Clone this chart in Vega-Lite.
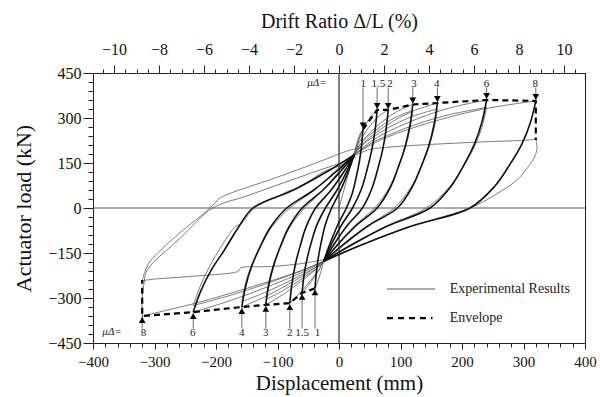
{
"$schema": "https://vega.github.io/schema/vega-lite/v6.json",
"width": 492, "height": 270,
"autosize": {"type": "none"},
"padding": {"left": 93, "top": 73, "right": 15, "bottom": 54},
"background": "white",
"config": {
  "view": {"stroke": "#222", "strokeWidth": 1},
  "font": "Liberation Serif",
  "axis": {"labelFont": "Liberation Serif", "titleFont": "Liberation Serif", "labelColor": "#111", "titleColor": "#111", "domainColor": "#222", "tickColor": "#222", "grid": false, "titleFontWeight": "normal", "labelFontSize": 16, "labelFlush": false, "labelOverlap": false}
},
"datasets": {
  "curves": [
    {"s":"v0","k":"thin","i":0,"x":0,"y":0},{"s":"v0","k":"thin","i":1,"x":8,"y":60},{"s":"v0","k":"thin","i":2,"x":16,"y":120},{"s":"v0","k":"thin","i":3,"x":25,"y":180},{"s":"v0","k":"thin","i":4,"x":32,"y":225},{"s":"v0","k":"thin","i":5,"x":39,"y":262},

    {"s":"u1","k":"thick","i":0,"x":39,"y":262},{"s":"u1","k":"thick","i":1,"x":36.8,"y":210},{"s":"u1","k":"thick","i":2,"x":33.3,"y":157},{"s":"u1","k":"thick","i":3,"x":28.2,"y":105},{"s":"u1","k":"thick","i":4,"x":22,"y":52},{"s":"u1","k":"thick","i":5,"x":12,"y":0},{"s":"u1","k":"thick","i":6,"x":-2.8,"y":-60},{"s":"u1","k":"thick","i":7,"x":-15.8,"y":-125},{"s":"u1","k":"thick","i":8,"x":-25,"y":-178},
    {"s":"u15","k":"thick","i":0,"x":62,"y":327},{"s":"u15","k":"thick","i":1,"x":58.8,"y":262},{"s":"u15","k":"thick","i":2,"x":53.6,"y":196},{"s":"u15","k":"thick","i":3,"x":46,"y":131},{"s":"u15","k":"thick","i":4,"x":36.8,"y":65},{"s":"u15","k":"thick","i":5,"x":22,"y":0},{"s":"u15","k":"thick","i":6,"x":3.2,"y":-60},{"s":"u15","k":"thick","i":7,"x":-13.3,"y":-125},{"s":"u15","k":"thick","i":8,"x":-25,"y":-178},
    {"s":"u2","k":"thick","i":0,"x":80,"y":327},{"s":"u2","k":"thick","i":1,"x":76.6,"y":262},{"s":"u2","k":"thick","i":2,"x":71.2,"y":196},{"s":"u2","k":"thick","i":3,"x":63.2,"y":131},{"s":"u2","k":"thick","i":4,"x":53.5,"y":65},{"s":"u2","k":"thick","i":5,"x":38,"y":0},{"s":"u2","k":"thick","i":6,"x":12.8,"y":-60},{"s":"u2","k":"thick","i":7,"x":-9.3,"y":-125},{"s":"u2","k":"thick","i":8,"x":-25,"y":-178},
    {"s":"u3","k":"thick","i":0,"x":120,"y":345},{"s":"u3","k":"thick","i":1,"x":115.4,"y":276},{"s":"u3","k":"thick","i":2,"x":107.8,"y":207},{"s":"u3","k":"thick","i":3,"x":96.8,"y":138},{"s":"u3","k":"thick","i":4,"x":83.5,"y":69},{"s":"u3","k":"thick","i":5,"x":62,"y":0},{"s":"u3","k":"thick","i":6,"x":27.2,"y":-60},{"s":"u3","k":"thick","i":7,"x":-3.3,"y":-125},{"s":"u3","k":"thick","i":8,"x":-25,"y":-178},
    {"s":"u4","k":"thick","i":0,"x":160,"y":350},{"s":"u4","k":"thick","i":1,"x":154.8,"y":280},{"s":"u4","k":"thick","i":2,"x":146.4,"y":210},{"s":"u4","k":"thick","i":3,"x":134,"y":140},{"s":"u4","k":"thick","i":4,"x":119,"y":70},{"s":"u4","k":"thick","i":5,"x":95,"y":0},{"s":"u4","k":"thick","i":6,"x":47,"y":-60},{"s":"u4","k":"thick","i":7,"x":5,"y":-125},{"s":"u4","k":"thick","i":8,"x":-25,"y":-178},
    {"s":"u6","k":"thick","i":0,"x":240,"y":360},{"s":"u6","k":"thick","i":1,"x":232.6,"y":288},{"s":"u6","k":"thick","i":2,"x":220.7,"y":216},{"s":"u6","k":"thick","i":3,"x":203.2,"y":144},{"s":"u6","k":"thick","i":4,"x":182,"y":72},{"s":"u6","k":"thick","i":5,"x":148,"y":0},{"s":"u6","k":"thick","i":6,"x":78.8,"y":-60},{"s":"u6","k":"thick","i":7,"x":18.3,"y":-125},{"s":"u6","k":"thick","i":8,"x":-25,"y":-178},
    {"s":"u8","k":"thick","i":0,"x":320,"y":357},{"s":"u8","k":"thick","i":1,"x":311.4,"y":286},{"s":"u8","k":"thick","i":2,"x":297.5,"y":214},{"s":"u8","k":"thick","i":3,"x":277.2,"y":143},{"s":"u8","k":"thick","i":4,"x":252.6,"y":71},{"s":"u8","k":"thick","i":5,"x":213,"y":0},{"s":"u8","k":"thick","i":6,"x":117.8,"y":-60},{"s":"u8","k":"thick","i":7,"x":34.5,"y":-125},{"s":"u8","k":"thick","i":8,"x":-25,"y":-178},

    {"s":"n1","k":"thick","i":0,"x":-39,"y":-268},{"s":"n1","k":"thick","i":1,"x":-36.8,"y":-214},{"s":"n1","k":"thick","i":2,"x":-33.3,"y":-161},{"s":"n1","k":"thick","i":3,"x":-28.2,"y":-107},{"s":"n1","k":"thick","i":4,"x":-22,"y":-54},{"s":"n1","k":"thick","i":5,"x":-12,"y":0},{"s":"n1","k":"thick","i":6,"x":2.8,"y":60},{"s":"n1","k":"thick","i":7,"x":15.8,"y":125},{"s":"n1","k":"thick","i":8,"x":25,"y":178},
    {"s":"n15","k":"thick","i":0,"x":-60,"y":-283},{"s":"n15","k":"thick","i":1,"x":-57,"y":-226},{"s":"n15","k":"thick","i":2,"x":-52,"y":-170},{"s":"n15","k":"thick","i":3,"x":-44.8,"y":-113},{"s":"n15","k":"thick","i":4,"x":-36.1,"y":-57},{"s":"n15","k":"thick","i":5,"x":-22,"y":0},{"s":"n15","k":"thick","i":6,"x":-3.2,"y":60},{"s":"n15","k":"thick","i":7,"x":13.3,"y":125},{"s":"n15","k":"thick","i":8,"x":25,"y":178},
    {"s":"n2","k":"thick","i":0,"x":-80,"y":-317},{"s":"n2","k":"thick","i":1,"x":-76.6,"y":-254},{"s":"n2","k":"thick","i":2,"x":-71.2,"y":-190},{"s":"n2","k":"thick","i":3,"x":-63.2,"y":-127},{"s":"n2","k":"thick","i":4,"x":-53.5,"y":-63},{"s":"n2","k":"thick","i":5,"x":-38,"y":0},{"s":"n2","k":"thick","i":6,"x":-12.8,"y":60},{"s":"n2","k":"thick","i":7,"x":9.3,"y":125},{"s":"n2","k":"thick","i":8,"x":25,"y":178},
    {"s":"n3","k":"thick","i":0,"x":-119,"y":-323},{"s":"n3","k":"thick","i":1,"x":-114.3,"y":-258},{"s":"n3","k":"thick","i":2,"x":-106.6,"y":-194},{"s":"n3","k":"thick","i":3,"x":-95.4,"y":-129},{"s":"n3","k":"thick","i":4,"x":-81.8,"y":-65},{"s":"n3","k":"thick","i":5,"x":-60,"y":0},{"s":"n3","k":"thick","i":6,"x":-26,"y":60},{"s":"n3","k":"thick","i":7,"x":3.8,"y":125},{"s":"n3","k":"thick","i":8,"x":25,"y":178},
    {"s":"n4","k":"thick","i":0,"x":-158,"y":-330},{"s":"n4","k":"thick","i":1,"x":-152.2,"y":-264},{"s":"n4","k":"thick","i":2,"x":-142.7,"y":-198},{"s":"n4","k":"thick","i":3,"x":-128.8,"y":-132},{"s":"n4","k":"thick","i":4,"x":-112,"y":-66},{"s":"n4","k":"thick","i":5,"x":-85,"y":0},{"s":"n4","k":"thick","i":6,"x":-41,"y":60},{"s":"n4","k":"thick","i":7,"x":-2.5,"y":125},{"s":"n4","k":"thick","i":8,"x":25,"y":178},
    {"s":"n6","k":"thick","i":0,"x":-237,"y":-347},{"s":"n6","k":"thick","i":1,"x":-225,"y":-278},{"s":"n6","k":"thick","i":2,"x":-208,"y":-208},{"s":"n6","k":"thick","i":3,"x":-186,"y":-139},{"s":"n6","k":"thick","i":4,"x":-165,"y":-69},{"s":"n6","k":"thick","i":5,"x":-140,"y":0},{"s":"n6","k":"thick","i":6,"x":-74,"y":60},{"s":"n6","k":"thick","i":7,"x":-16.3,"y":125},{"s":"n6","k":"thick","i":8,"x":25,"y":178},

    {"s":"r1","k":"thin","i":0,"x":25,"y":178},{"s":"r1","k":"thin","i":1,"x":27.1,"y":201.5},{"s":"r1","k":"thin","i":2,"x":30.6,"y":226.7},{"s":"r1","k":"thin","i":3,"x":34.8,"y":248.6},{"s":"r1","k":"thin","i":4,"x":39,"y":262},
    {"s":"r15","k":"thin","i":0,"x":25,"y":178},{"s":"r15","k":"thin","i":1,"x":30.6,"y":219.7},{"s":"r15","k":"thin","i":2,"x":39.8,"y":264.4},{"s":"r15","k":"thin","i":3,"x":50.9,"y":303.2},{"s":"r15","k":"thin","i":4,"x":62,"y":327},
    {"s":"r2","k":"thin","i":0,"x":25,"y":178},{"s":"r2","k":"thin","i":1,"x":33.3,"y":219.7},{"s":"r2","k":"thin","i":2,"x":47,"y":264.4},{"s":"r2","k":"thin","i":3,"x":63.5,"y":303.2},{"s":"r2","k":"thin","i":4,"x":80,"y":327},
    {"s":"r3","k":"thin","i":0,"x":25,"y":178},{"s":"r3","k":"thin","i":1,"x":39.3,"y":224.8},{"s":"r3","k":"thin","i":2,"x":63,"y":274.9},{"s":"r3","k":"thin","i":3,"x":91.5,"y":318.3},{"s":"r3","k":"thin","i":4,"x":120,"y":345},
    {"s":"r4","k":"thin","i":0,"x":25,"y":178},{"s":"r4","k":"thin","i":1,"x":45.3,"y":226.2},{"s":"r4","k":"thin","i":2,"x":79,"y":277.8},{"s":"r4","k":"thin","i":3,"x":119.5,"y":322.5},{"s":"r4","k":"thin","i":4,"x":160,"y":350},
    {"s":"r6","k":"thin","i":0,"x":25,"y":178},{"s":"r6","k":"thin","i":1,"x":57.3,"y":229},{"s":"r6","k":"thin","i":2,"x":111,"y":283.6},{"s":"r6","k":"thin","i":3,"x":175.5,"y":330.9},{"s":"r6","k":"thin","i":4,"x":240,"y":360},
    {"s":"r8","k":"thin","i":0,"x":25,"y":178},{"s":"r8","k":"thin","i":1,"x":69.3,"y":228.1},{"s":"r8","k":"thin","i":2,"x":143,"y":281.8},{"s":"r8","k":"thin","i":3,"x":231.5,"y":328.4},{"s":"r8","k":"thin","i":4,"x":320,"y":357},

    {"s":"q1","k":"thin","i":0,"x":-25,"y":-178},{"s":"q1","k":"thin","i":1,"x":-27.1,"y":-196},{"s":"q1","k":"thin","i":2,"x":-30.6,"y":-220.3},{"s":"q1","k":"thin","i":3,"x":-34.8,"y":-246.4},{"s":"q1","k":"thin","i":4,"x":-39,"y":-268},
    {"s":"q15","k":"thin","i":0,"x":-25,"y":-178},{"s":"q15","k":"thin","i":1,"x":-30.25,"y":-199},{"s":"q15","k":"thin","i":2,"x":-39,"y":-227.4},{"s":"q15","k":"thin","i":3,"x":-49.5,"y":-257.8},{"s":"q15","k":"thin","i":4,"x":-60,"y":-283},
    {"s":"q2","k":"thin","i":0,"x":-25,"y":-178},{"s":"q2","k":"thin","i":1,"x":-33.3,"y":-205.8},{"s":"q2","k":"thin","i":2,"x":-47,"y":-243.3},{"s":"q2","k":"thin","i":3,"x":-63.5,"y":-283.6},{"s":"q2","k":"thin","i":4,"x":-80,"y":-317},
    {"s":"q3","k":"thin","i":0,"x":-25,"y":-178},{"s":"q3","k":"thin","i":1,"x":-39.1,"y":-207},{"s":"q3","k":"thin","i":2,"x":-62.6,"y":-246.2},{"s":"q3","k":"thin","i":3,"x":-90.8,"y":-288.2},{"s":"q3","k":"thin","i":4,"x":-119,"y":-323},
    {"s":"q4","k":"thin","i":0,"x":-25,"y":-178},{"s":"q4","k":"thin","i":1,"x":-45,"y":-208.4},{"s":"q4","k":"thin","i":2,"x":-78.2,"y":-249.4},{"s":"q4","k":"thin","i":3,"x":-118.1,"y":-293.5},{"s":"q4","k":"thin","i":4,"x":-158,"y":-330},
    {"s":"q6","k":"thin","i":0,"x":-25,"y":-178},{"s":"q6","k":"thin","i":1,"x":-56.8,"y":-211.8},{"s":"q6","k":"thin","i":2,"x":-109.8,"y":-257.4},{"s":"q6","k":"thin","i":3,"x":-173.4,"y":-306.4},{"s":"q6","k":"thin","i":4,"x":-237,"y":-347},
    {"s":"q8","k":"thin","i":0,"x":-25,"y":-178},{"s":"q8","k":"thin","i":1,"x":-69.3,"y":-214.4},{"s":"q8","k":"thin","i":2,"x":-143,"y":-263.5},{"s":"q8","k":"thin","i":3,"x":-231.5,"y":-316.3},{"s":"q8","k":"thin","i":4,"x":-320,"y":-360},

    {"s":"r3b","k":"thin","i":0,"x":20,"y":170},{"s":"r3b","k":"thin","i":1,"x":35,"y":213.4},{"s":"r3b","k":"thin","i":2,"x":60,"y":259.9},{"s":"r3b","k":"thin","i":3,"x":90,"y":300.2},{"s":"r3b","k":"thin","i":4,"x":120,"y":325},
    {"s":"u3b","k":"thin","i":0,"x":120,"y":325},{"s":"u3b","k":"thin","i":1,"x":115,"y":260},{"s":"u3b","k":"thin","i":2,"x":107,"y":195},{"s":"u3b","k":"thin","i":3,"x":95.2,"y":130},{"s":"u3b","k":"thin","i":4,"x":80.9,"y":65},{"s":"u3b","k":"thin","i":5,"x":58,"y":0},{"s":"u3b","k":"thin","i":6,"x":24.8,"y":-60},{"s":"u3b","k":"thin","i":7,"x":-4.3,"y":-125},{"s":"u3b","k":"thin","i":8,"x":-20,"y":-172},
    {"s":"q3b","k":"thin","i":0,"x":-20,"y":-172},{"s":"q3b","k":"thin","i":1,"x":-34.9,"y":-198.6},{"s":"q3b","k":"thin","i":2,"x":-59.6,"y":-234.5},{"s":"q3b","k":"thin","i":3,"x":-89.3,"y":-273.1},{"s":"q3b","k":"thin","i":4,"x":-119,"y":-305},
    {"s":"n3b","k":"thin","i":0,"x":-119,"y":-305},{"s":"n3b","k":"thin","i":1,"x":-114,"y":-244},{"s":"n3b","k":"thin","i":2,"x":-105.8,"y":-183},{"s":"n3b","k":"thin","i":3,"x":-93.8,"y":-122},{"s":"n3b","k":"thin","i":4,"x":-79.3,"y":-61},{"s":"n3b","k":"thin","i":5,"x":-56,"y":0},{"s":"n3b","k":"thin","i":6,"x":-25.6,"y":60},{"s":"n3b","k":"thin","i":7,"x":1,"y":125},{"s":"n3b","k":"thin","i":8,"x":20,"y":170},
    {"s":"r4b","k":"thin","i":0,"x":20,"y":170},{"s":"r4b","k":"thin","i":1,"x":41,"y":214.8},{"s":"r4b","k":"thin","i":2,"x":76,"y":262.8},{"s":"r4b","k":"thin","i":3,"x":118,"y":304.4},{"s":"r4b","k":"thin","i":4,"x":160,"y":330},
    {"s":"u4b","k":"thin","i":0,"x":160,"y":330},{"s":"u4b","k":"thin","i":1,"x":154.4,"y":264},{"s":"u4b","k":"thin","i":2,"x":145.3,"y":198},{"s":"u4b","k":"thin","i":3,"x":132,"y":132},{"s":"u4b","k":"thin","i":4,"x":115.9,"y":66},{"s":"u4b","k":"thin","i":5,"x":90,"y":0},{"s":"u4b","k":"thin","i":6,"x":46,"y":-60},{"s":"u4b","k":"thin","i":7,"x":7.5,"y":-125},{"s":"u4b","k":"thin","i":8,"x":-20,"y":-172},
    {"s":"q4b","k":"thin","i":0,"x":-20,"y":-172},{"s":"q4b","k":"thin","i":1,"x":-40.7,"y":-200},{"s":"q4b","k":"thin","i":2,"x":-75.2,"y":-237.8},{"s":"q4b","k":"thin","i":3,"x":-116.6,"y":-278.4},{"s":"q4b","k":"thin","i":4,"x":-158,"y":-312},
    {"s":"n4b","k":"thin","i":0,"x":-158,"y":-312},{"s":"n4b","k":"thin","i":1,"x":-151.8,"y":-250},{"s":"n4b","k":"thin","i":2,"x":-141.6,"y":-187},{"s":"n4b","k":"thin","i":3,"x":-126.8,"y":-125},{"s":"n4b","k":"thin","i":4,"x":-108.9,"y":-62},{"s":"n4b","k":"thin","i":5,"x":-80,"y":0},{"s":"n4b","k":"thin","i":6,"x":-40,"y":60},{"s":"n4b","k":"thin","i":7,"x":-5,"y":125},{"s":"n4b","k":"thin","i":8,"x":20,"y":170},
    {"s":"r6b","k":"thin","i":0,"x":20,"y":170},{"s":"r6b","k":"thin","i":1,"x":53,"y":216.2},{"s":"r6b","k":"thin","i":2,"x":108,"y":265.7},{"s":"r6b","k":"thin","i":3,"x":174,"y":308.6},{"s":"r6b","k":"thin","i":4,"x":240,"y":335},
    {"s":"u6b","k":"thin","i":0,"x":240,"y":335},{"s":"u6b","k":"thin","i":1,"x":232.2,"y":268},{"s":"u6b","k":"thin","i":2,"x":219.4,"y":201},{"s":"u6b","k":"thin","i":3,"x":200.8,"y":134},{"s":"u6b","k":"thin","i":4,"x":178.3,"y":67},{"s":"u6b","k":"thin","i":5,"x":142,"y":0},{"s":"u6b","k":"thin","i":6,"x":77.2,"y":-60},{"s":"u6b","k":"thin","i":7,"x":20.5,"y":-125},{"s":"u6b","k":"thin","i":8,"x":-20,"y":-172},
    {"s":"q6b","k":"thin","i":0,"x":-20,"y":-172},{"s":"q6b","k":"thin","i":1,"x":-52.6,"y":-202.6},{"s":"q6b","k":"thin","i":2,"x":-106.8,"y":-243.9},{"s":"q6b","k":"thin","i":3,"x":-171.9,"y":-288.3},{"s":"q6b","k":"thin","i":4,"x":-237,"y":-325},
    {"s":"n6b","k":"thin","i":0,"x":-237,"y":-325},{"s":"n6b","k":"thin","i":1,"x":-226,"y":-262},{"s":"n6b","k":"thin","i":2,"x":-211,"y":-197},{"s":"n6b","k":"thin","i":3,"x":-192,"y":-130},{"s":"n6b","k":"thin","i":4,"x":-172,"y":-70},{"s":"n6b","k":"thin","i":5,"x":-165,"y":-58},{"s":"n6b","k":"thin","i":6,"x":-160,"y":-55},{"s":"n6b","k":"thin","i":7,"x":-138,"y":0},{"s":"n6b","k":"thin","i":8,"x":-110,"y":30},{"s":"n6b","k":"thin","i":9,"x":-104,"y":33},{"s":"n6b","k":"thin","i":10,"x":-80,"y":58},{"s":"n6b","k":"thin","i":11,"x":-74,"y":60},{"s":"n6b","k":"thin","i":12,"x":-50,"y":88},{"s":"n6b","k":"thin","i":13,"x":-26,"y":120},{"s":"n6b","k":"thin","i":14,"x":0,"y":140},{"s":"n6b","k":"thin","i":15,"x":20,"y":160},

    {"s":"r8b","k":"thin","i":0,"x":20,"y":170},{"s":"r8b","k":"thin","i":1,"x":50,"y":195},{"s":"r8b","k":"thin","i":2,"x":83,"y":203},{"s":"r8b","k":"thin","i":3,"x":150,"y":212},{"s":"r8b","k":"thin","i":4,"x":230,"y":220},{"s":"r8b","k":"thin","i":5,"x":310,"y":227},{"s":"r8b","k":"thin","i":6,"x":320,"y":230},
    {"s":"u8b","k":"thin","i":0,"x":320,"y":230},{"s":"u8b","k":"thin","i":1,"x":322,"y":200},{"s":"u8b","k":"thin","i":2,"x":318,"y":170},{"s":"u8b","k":"thin","i":3,"x":305,"y":130},{"s":"u8b","k":"thin","i":4,"x":289,"y":93},{"s":"u8b","k":"thin","i":5,"x":255,"y":45},{"s":"u8b","k":"thin","i":6,"x":213,"y":0},{"s":"u8b","k":"thin","i":7,"x":120,"y":-60},{"s":"u8b","k":"thin","i":8,"x":40,"y":-120},{"s":"u8b","k":"thin","i":9,"x":-20,"y":-170},
    {"s":"q8b","k":"thin","i":0,"x":-20,"y":-170},{"s":"q8b","k":"thin","i":1,"x":-60,"y":-185},{"s":"q8b","k":"thin","i":2,"x":-110,"y":-195},{"s":"q8b","k":"thin","i":3,"x":-160,"y":-200},{"s":"q8b","k":"thin","i":4,"x":-163,"y":-210},{"s":"q8b","k":"thin","i":5,"x":-170,"y":-215},{"s":"q8b","k":"thin","i":6,"x":-240,"y":-228},{"s":"q8b","k":"thin","i":7,"x":-300,"y":-237},{"s":"q8b","k":"thin","i":8,"x":-320,"y":-242},
    {"s":"n8a","k":"thin","i":0,"x":-320,"y":-360},{"s":"n8a","k":"thin","i":1,"x":-320,"y":-300},{"s":"n8a","k":"thin","i":2,"x":-317,"y":-250},{"s":"n8a","k":"thin","i":3,"x":-312,"y":-207},{"s":"n8a","k":"thin","i":4,"x":-258,"y":-100},{"s":"n8a","k":"thin","i":5,"x":-205,"y":0},{"s":"n8a","k":"thin","i":6,"x":-150,"y":40},{"s":"n8a","k":"thin","i":7,"x":-100,"y":77},{"s":"n8a","k":"thin","i":8,"x":-50,"y":113},{"s":"n8a","k":"thin","i":9,"x":2,"y":150},{"s":"n8a","k":"thin","i":10,"x":28,"y":170},
    {"s":"n8b","k":"thin","i":0,"x":-320,"y":-242},{"s":"n8b","k":"thin","i":1,"x":-316,"y":-215},{"s":"n8b","k":"thin","i":2,"x":-308,"y":-180},{"s":"n8b","k":"thin","i":3,"x":-260,"y":-85},{"s":"n8b","k":"thin","i":4,"x":-215,"y":-10},{"s":"n8b","k":"thin","i":5,"x":-200,"y":20},{"s":"n8b","k":"thin","i":6,"x":-195,"y":32},{"s":"n8b","k":"thin","i":7,"x":-100,"y":103},{"s":"n8b","k":"thin","i":8,"x":-40,"y":148},{"s":"n8b","k":"thin","i":9,"x":18,"y":193},{"s":"n8b","k":"thin","i":10,"x":35,"y":200}
  ],
  "env": [
    {"s":"pos","i":0,"x":39,"y":262},{"s":"pos","i":1,"x":62,"y":327},{"s":"pos","i":2,"x":80,"y":327},{"s":"pos","i":3,"x":120,"y":345},{"s":"pos","i":4,"x":160,"y":350},{"s":"pos","i":5,"x":240,"y":360},{"s":"pos","i":6,"x":320,"y":357},{"s":"pos","i":7,"x":320,"y":227},
    {"s":"neg","i":0,"x":-39,"y":-268},{"s":"neg","i":1,"x":-60,"y":-283},{"s":"neg","i":2,"x":-80,"y":-317},{"s":"neg","i":3,"x":-119,"y":-323},{"s":"neg","i":4,"x":-158,"y":-330},{"s":"neg","i":5,"x":-237,"y":-347},{"s":"neg","i":6,"x":-320,"y":-360},{"s":"neg","i":7,"x":-320,"y":-240}
  ],
  "mu": [
    {"t":"1","side":"pos","x":39,"lx":39.5,"p":262},{"t":"1.5","side":"pos","x":62,"lx":64,"p":327},{"t":"2","side":"pos","x":80,"lx":83,"p":327},{"t":"3","side":"pos","x":120,"lx":122,"p":345},{"t":"4","side":"pos","x":160,"lx":159,"p":350},{"t":"6","side":"pos","x":240,"lx":240,"p":360},{"t":"8","side":"pos","x":320,"lx":319,"p":357},
    {"t":"1","side":"neg","x":-39,"lx":-35,"p":-268},{"t":"1.5","side":"neg","x":-60,"lx":-60,"p":-283},{"t":"2","side":"neg","x":-80,"lx":-80,"p":-317},{"t":"3","side":"neg","x":-119,"lx":-119,"p":-323},{"t":"4","side":"neg","x":-158,"lx":-158,"p":-330},{"t":"6","side":"neg","x":-237,"lx":-238,"p":-347},{"t":"8","side":"neg","x":-320,"lx":-318,"p":-360}
  ]
},
"resolve": {"scale": {"x": "independent"}, "axis": {"x": "independent", "y": "independent"}},
"layer": [
  {
    "data": {"values": [{"v": 0}]},
    "mark": {"type": "rule", "color": "#555", "strokeWidth": 1},
    "encoding": {"y": {"field": "v", "type": "quantitative", "scale": {"domain": [-450, 450], "nice": false, "zero": false}, "axis": null}}
  },
  {
    "data": {"values": [{"d": 0}]},
    "mark": {"type": "rule", "color": "#555", "strokeWidth": 1},
    "encoding": {"x": {"field": "d", "type": "quantitative", "scale": {"domain": [-10.935, 10.935], "nice": false, "zero": false},
      "axis": {"orient": "top", "values": [-10,-8,-6,-4,-2,0,2,4,6,8,10], "title": "Drift Ratio  Δ/L  (%)", "titleFontSize": 20, "titlePadding": 10, "tickSize": 8, "labelPadding": 8, "labelFontSize": 16}}}
  },
  {
    "data": {"values": [{"d": 0}]},
    "mark": {"type": "rule", "color": "#555", "strokeWidth": 1},
    "encoding": {"x": {"field": "d", "type": "quantitative", "scale": {"domain": [-10.935, 10.935], "nice": false, "zero": false},
      "axis": {"orient": "top", "values": [-10.5,-10,-9.5,-9,-8.5,-8,-7.5,-7,-6.5,-6,-5.5,-5,-4.5,-4,-3.5,-3,-2.5,-2,-1.5,-1,-0.5,0,0.5,1,1.5,2,2.5,3,3.5,4,4.5,5,5.5,6,6.5,7,7.5,8,8.5,9,9.5,10,10.5], "labels": false, "domain": false, "title": null, "tickSize": 4}}}
  },
  {
    "data": {"name": "curves"},
    "transform": [{"filter": "datum.k === 'thin'"}],
    "mark": {"type": "line", "color": "#5a5a5a", "strokeWidth": 0.8, "interpolate": "catmull-rom"},
    "encoding": {
      "x": {"field": "x", "type": "quantitative", "scale": {"domain": [-400, 400], "nice": false, "zero": false},
        "axis": {"orient": "bottom", "values": [-400,-300,-200,-100,0,100,200,300,400], "title": "Displacement (mm)", "titleFontSize": 21, "titlePadding": 3, "tickSize": 6, "labelPadding": 5, "labelFontSize": 15}},
      "y": {"field": "y", "type": "quantitative", "scale": {"domain": [-450, 450], "nice": false, "zero": false},
        "axis": {"orient": "left", "values": [-450,-300,-150,0,150,300,450], "title": "Actuator load (kN)", "titleFontSize": 22, "titlePadding": 12, "tickSize": 10, "labelPadding": 2, "labelFontSize": 16}},
      "detail": {"field": "s"},
      "order": {"field": "i", "type": "quantitative"}
    }
  },
  {
    "data": {"name": "curves"},
    "transform": [{"filter": "datum.k === 'thick'"}],
    "mark": {"type": "line", "color": "#111", "strokeWidth": 1.6, "interpolate": "catmull-rom"},
    "encoding": {
      "x": {"field": "x", "type": "quantitative", "scale": {"domain": [-400, 400], "nice": false, "zero": false},
        "axis": {"orient": "bottom", "values": [-400,-380,-360,-340,-320,-300,-280,-260,-240,-220,-200,-180,-160,-140,-120,-100,-80,-60,-40,-20,0,20,40,60,80,100,120,140,160,180,200,220,240,260,280,300,320,340,360,380,400], "labels": false, "domain": false, "title": null, "tickSize": 4}},
      "y": {"field": "y", "type": "quantitative", "scale": {"domain": [-450, 450], "nice": false, "zero": false},
        "axis": {"orient": "left", "values": [-450,-420,-390,-360,-330,-300,-270,-240,-210,-180,-150,-120,-90,-60,-30,0,30,60,90,120,150,180,210,240,270,300,330,360,390,420,450], "labels": false, "domain": false, "title": null, "tickSize": 5}},
      "detail": {"field": "s"},
      "order": {"field": "i", "type": "quantitative"}
    }
  },
  {
    "data": {"name": "env"},
    "mark": {"type": "line", "color": "#000", "strokeWidth": 2.2, "strokeDash": [6, 4]},
    "encoding": {
      "x": {"field": "x", "type": "quantitative", "scale": {"domain": [-400, 400], "nice": false, "zero": false}, "axis": null},
      "y": {"field": "y", "type": "quantitative", "scale": {"domain": [-450, 450], "nice": false, "zero": false}, "axis": null},
      "detail": {"field": "s"},
      "order": {"field": "i", "type": "quantitative"}
    }
  },
  {
    "data": {"name": "mu"},
    "transform": [{"filter": "datum.side === 'pos'"}],
    "mark": {"type": "rule", "color": "#444", "strokeWidth": 0.8},
    "encoding": {
      "x": {"field": "x", "type": "quantitative", "scale": {"domain": [-400, 400], "nice": false, "zero": false}, "axis": null},
      "y": {"field": "p", "type": "quantitative", "scale": {"domain": [-450, 450], "nice": false, "zero": false}, "axis": null},
      "y2": {"datum": 402}
    }
  },
  {
    "data": {"name": "mu"},
    "transform": [{"filter": "datum.side === 'neg'"}],
    "mark": {"type": "rule", "color": "#444", "strokeWidth": 0.8},
    "encoding": {
      "x": {"field": "x", "type": "quantitative", "scale": {"domain": [-400, 400], "nice": false, "zero": false}, "axis": null},
      "y": {"field": "p", "type": "quantitative", "scale": {"domain": [-450, 450], "nice": false, "zero": false}, "axis": null},
      "y2": {"datum": -402}
    }
  },
  {
    "data": {"name": "mu"},
    "transform": [{"filter": "datum.side === 'pos'"}],
    "mark": {"type": "point", "shape": "triangle-down", "filled": true, "color": "#000", "size": 45, "yOffset": -4, "opacity": 1},
    "encoding": {
      "x": {"field": "x", "type": "quantitative", "scale": {"domain": [-400, 400], "nice": false, "zero": false}, "axis": null},
      "y": {"field": "p", "type": "quantitative", "scale": {"domain": [-450, 450], "nice": false, "zero": false}, "axis": null}
    }
  },
  {
    "data": {"name": "mu"},
    "transform": [{"filter": "datum.side === 'neg'"}],
    "mark": {"type": "point", "shape": "triangle-up", "filled": true, "color": "#000", "size": 45, "yOffset": 4, "opacity": 1},
    "encoding": {
      "x": {"field": "x", "type": "quantitative", "scale": {"domain": [-400, 400], "nice": false, "zero": false}, "axis": null},
      "y": {"field": "p", "type": "quantitative", "scale": {"domain": [-450, 450], "nice": false, "zero": false}, "axis": null}
    }
  },
  {
    "data": {"name": "mu"},
    "transform": [{"filter": "datum.side === 'pos'"}],
    "mark": {"type": "text", "font": "Liberation Serif", "fontSize": 11, "color": "#222", "align": "center", "baseline": "middle"},
    "encoding": {
      "x": {"field": "lx", "type": "quantitative", "scale": {"domain": [-400, 400], "nice": false, "zero": false}, "axis": null},
      "y": {"datum": 414, "scale": {"domain": [-450, 450], "nice": false, "zero": false}, "axis": null},
      "text": {"field": "t"}
    }
  },
  {
    "data": {"name": "mu"},
    "transform": [{"filter": "datum.side === 'neg'"}],
    "mark": {"type": "text", "font": "Liberation Serif", "fontSize": 11, "color": "#222", "align": "center", "baseline": "middle"},
    "encoding": {
      "x": {"field": "lx", "type": "quantitative", "scale": {"domain": [-400, 400], "nice": false, "zero": false}, "axis": null},
      "y": {"datum": -416, "scale": {"domain": [-450, 450], "nice": false, "zero": false}, "axis": null},
      "text": {"field": "t"}
    }
  },
  {
    "data": {"values": [{"t": "μΔ=", "x": -36, "y": 416}, {"t": "μΔ=", "x": -369, "y": -412}]},
    "mark": {"type": "text", "font": "Liberation Serif", "fontSize": 11, "fontStyle": "italic", "color": "#222", "align": "center", "baseline": "middle"},
    "encoding": {
      "x": {"field": "x", "type": "quantitative", "scale": {"domain": [-400, 400], "nice": false, "zero": false}, "axis": null},
      "y": {"field": "y", "type": "quantitative", "scale": {"domain": [-450, 450], "nice": false, "zero": false}, "axis": null},
      "text": {"field": "t"}
    }
  },
  {
    "data": {"values": [{"x": 78, "x2": 156, "y": -270}]},
    "mark": {"type": "rule", "color": "#5a5a5a", "strokeWidth": 1},
    "encoding": {
      "x": {"field": "x", "type": "quantitative", "scale": {"domain": [-400, 400], "nice": false, "zero": false}, "axis": null},
      "x2": {"field": "x2"},
      "y": {"field": "y", "type": "quantitative", "scale": {"domain": [-450, 450], "nice": false, "zero": false}, "axis": null}
    }
  },
  {
    "data": {"values": [{"x": 78, "x2": 152, "y": -367}]},
    "mark": {"type": "rule", "color": "#000", "strokeWidth": 2.2, "strokeDash": [6, 5]},
    "encoding": {
      "x": {"field": "x", "type": "quantitative", "scale": {"domain": [-400, 400], "nice": false, "zero": false}, "axis": null},
      "x2": {"field": "x2"},
      "y": {"field": "y", "type": "quantitative", "scale": {"domain": [-450, 450], "nice": false, "zero": false}, "axis": null}
    }
  },
  {
    "data": {"values": [{"t": "Experimental Results", "x": 180, "y": -270}, {"t": "Envelope", "x": 180, "y": -367}]},
    "mark": {"type": "text", "font": "Liberation Serif", "fontSize": 14, "color": "#222", "align": "left", "baseline": "middle"},
    "encoding": {
      "x": {"field": "x", "type": "quantitative", "scale": {"domain": [-400, 400], "nice": false, "zero": false}, "axis": null},
      "y": {"field": "y", "type": "quantitative", "scale": {"domain": [-450, 450], "nice": false, "zero": false}, "axis": null},
      "text": {"field": "t"}
    }
  }
]
}
